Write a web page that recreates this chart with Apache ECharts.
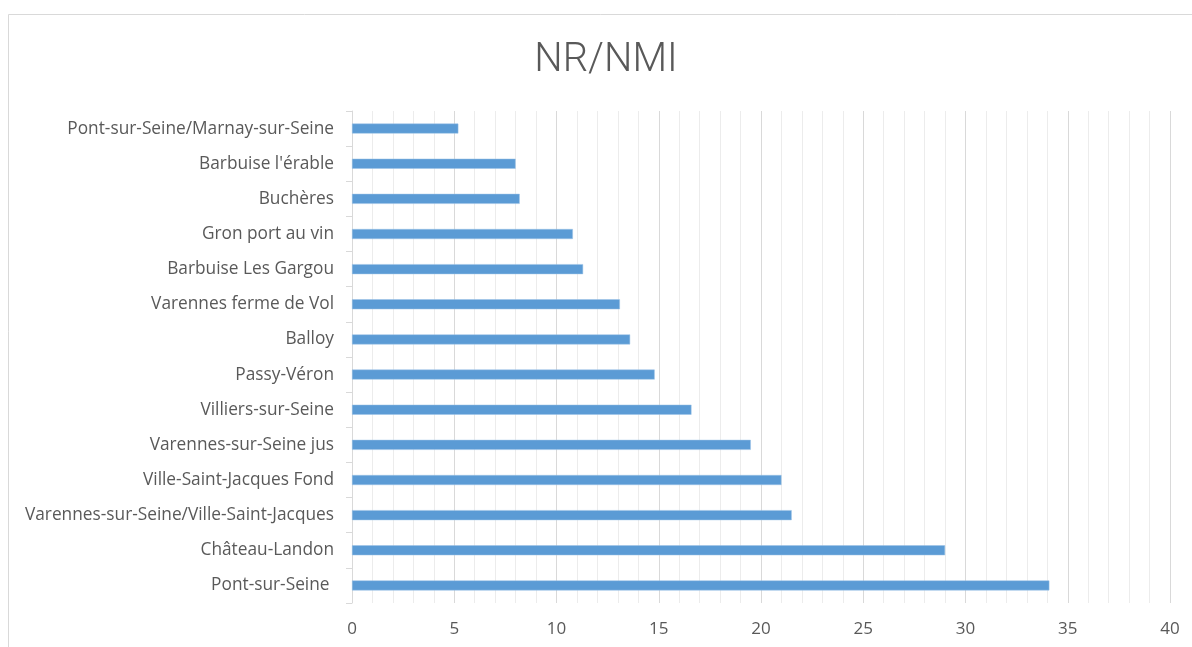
<!DOCTYPE html>
<html>
<head>
<meta charset="utf-8">
<script src="https://cdn.jsdelivr.net/npm/echarts@6/dist/echarts.min.js"></script>
<style>
  html, body { margin: 0; padding: 0; background: #fff; }
  #main { width: 1192px; height: 647px; }
</style>
</head>
<body>
<div id="main"></div>
<script>
// categories from bottom to top
var sites = [
  'Pont-sur-Seine ',
  'Château-Landon',
  'Varennes-sur-Seine/Ville-Saint-Jacques',
  'Ville-Saint-Jacques Fond',
  'Varennes-sur-Seine jus',
  'Villiers-sur-Seine',
  'Passy-Véron',
  'Balloy',
  'Varennes ferme de Vol',
  'Barbuise Les Gargou',
  'Gron port au vin',
  'Buchères',
  "Barbuise l'érable",
  'Pont-sur-Seine/Marnay-sur-Seine'
];
var ratio = [34.1, 29.0, 21.5, 21.0, 19.5, 16.6, 14.8, 13.6, 13.1, 11.3, 10.8, 8.2, 8.0, 5.2];
var xTicks = [0, 40, 5]; // min, max, interval

var myChart = echarts.init(document.getElementById('main'));

var option = {
  backgroundColor: '#fff',
  animation: false,
  title: {
    text: 'NR/NMI',
    left: 601,
    top: 36,
    textAlign: 'center',
    textStyle: {
      fontFamily: 'Roboto',
      fontWeight: 300,
      fontSize: 40,
      color: '#595959'
    }
  },
  // outer frame of the chart area (left and top edges visible)
  graphic: [{
    type: 'rect',
    shape: { x: 8.5, y: 14.5, width: 1300, height: 700 },
    style: { fill: 'none', stroke: '#d9d9d9', lineWidth: 1 },
    silent: true
  }],
  grid: {
    left: 352,
    right: 22,
    top: 111,
    bottom: 44
  },
  xAxis: {
    type: 'value',
    min: xTicks[0],
    max: xTicks[1],
    interval: xTicks[2],
    axisLine: { show: false },
    axisTick: { show: false },
    axisLabel: {
      fontFamily: 'Open Sans',
      fontSize: 17,
      color: '#595959',
      margin: 18
    },
    splitLine: { show: true, lineStyle: { color: '#d9d9d9', width: 1 } },
    minorTick: { show: false, splitNumber: 5 },
    minorSplitLine: { show: true, lineStyle: { color: '#ececec', width: 1 } }
  },
  yAxis: {
    type: 'category',
    data: sites,
    axisLine: { show: true, lineStyle: { color: '#d9d9d9' } },
    axisTick: { show: true, length: 6, lineStyle: { color: '#d9d9d9' } },
    axisLabel: {
      fontFamily: 'Open Sans',
      fontSize: 17.3,
      color: '#595959',
      margin: 18
    },
    splitLine: { show: false }
  },
  series: [{
    name: 'NR/NMI',
    type: 'bar',
    data: ratio,
    barWidth: 10,
    itemStyle: {
      color: '#5b9bd5',
      borderColor: '#9dc3e6',
      borderWidth: 0.5
    }
  }]
};

myChart.setOption(option);
</script>
</body>
</html>
